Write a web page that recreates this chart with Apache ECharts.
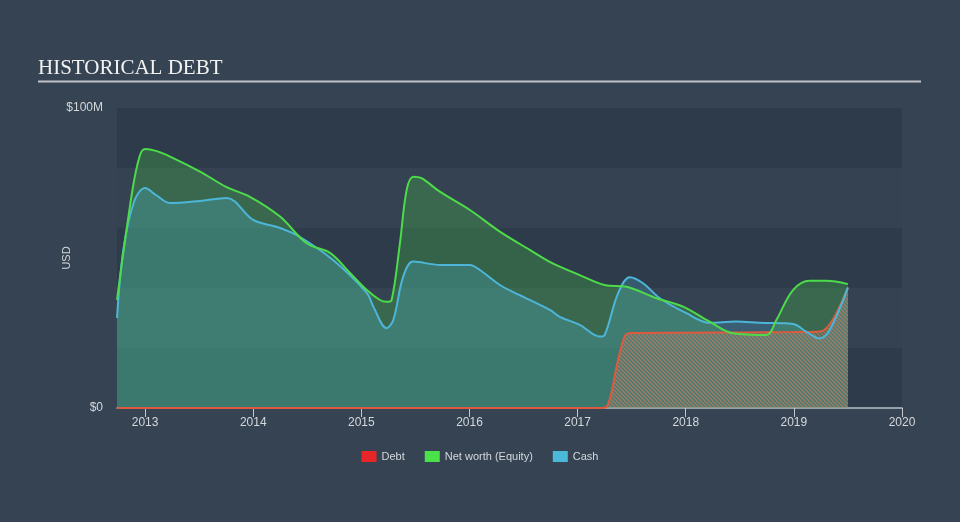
<!DOCTYPE html>
<html>
<head>
<meta charset="utf-8">
<script src="https://cdn.jsdelivr.net/npm/echarts@6/dist/echarts.min.js"></script>
<style>
html,body{margin:0;padding:0;background:#354352;}
#c{width:960px;height:522px;}
</style>
</head>
<body>
<div id="c"></div>
<script>
// ---- data (decimal years, values in $M) ----
const xTickYears = [2013, 2014, 2015, 2016, 2017, 2018, 2019, 2020];
const yTickLabels = {0: '$0', 100: '$100M'};

const netWorthYears = [2012.74, 2012.88, 2012.95, 2013.0, 2013.1, 2013.231, 2013.508, 2013.755, 2013.97, 2014.248, 2014.494, 2014.71, 2014.895, 2015.05, 2015.172, 2015.234, 2015.28, 2015.357, 2015.419, 2015.48, 2015.557, 2015.726, 2016.004, 2016.281, 2016.558, 2016.743, 2016.835, 2017.02, 2017.25, 2017.452, 2017.729, 2017.975, 2018.22, 2018.437, 2018.745, 2018.838, 2018.992, 2019.147, 2019.30, 2019.50];
const netWorthValues = [36, 72, 84, 86.3, 85.7, 83.8, 78.8, 73.6, 70.4, 63.8, 54.9, 51.7, 45, 39.3, 36, 35.4, 36, 55, 72.7, 77.1, 76.6, 72.1, 66, 58.8, 52.7, 48.7, 47.1, 44.3, 41, 40.4, 36.6, 33.8, 28.8, 24.9, 24.3, 29.3, 39.3, 42.4, 42.4, 41.3];

const cashYears = [2012.74, 2012.8, 2012.9, 2013.0, 2013.1, 2013.231, 2013.508, 2013.755, 2014.0, 2014.248, 2014.433, 2014.738, 2015.052, 2015.11, 2015.234, 2015.295, 2015.387, 2015.48, 2015.726, 2016.004, 2016.096, 2016.281, 2016.46, 2016.743, 2016.835, 2017.02, 2017.205, 2017.25, 2017.374, 2017.482, 2017.605, 2017.76, 2018.006, 2018.22, 2018.468, 2018.683, 2018.992, 2019.116, 2019.238, 2019.331, 2019.50];
const cashValues = [30, 53, 69, 73.3, 71, 68.3, 69, 70, 62.7, 60, 57, 49.3, 38.3, 33.8, 26.6, 29.3, 43.8, 48.8, 47.7, 47.7, 46, 41, 37.7, 32.7, 30.4, 27.7, 23.8, 24.3, 38.2, 43.6, 41.6, 36.6, 31.6, 28.4, 28.8, 28.4, 28, 25.4, 23.2, 26, 40.2];

const debtYears = [2012.74, 2017.2, 2017.267, 2017.374, 2017.44, 2017.5, 2018.0, 2018.5, 2019.0, 2019.22, 2019.30, 2019.393, 2019.50];
const debtValues = [0, 0, 0.4, 16, 24.2, 25, 25.1, 25.2, 25.3, 25.4, 26.6, 31.6, 40];

function pairs(xs, ys){ return xs.map((x,i)=>[x, ys[i]]); }

// hatch pattern for the debt area ("\" stripes)
const P = 4;
const pc = document.createElement('canvas');
pc.width = P; pc.height = P;
const g = pc.getContext('2d');
g.fillStyle = 'rgba(120,130,125,0.28)';
g.fillRect(0,0,P,P);
g.strokeStyle = 'rgba(215,125,90,0.6)';
g.lineWidth = 1.3;
g.beginPath();
g.moveTo(0,0); g.lineTo(P,P);
g.moveTo(-P,0); g.lineTo(P,2*P);
g.moveTo(0,-P); g.lineTo(2*P,P);
g.stroke();

const font = "'Liberation Sans', Arial, sans-serif";
const chart = echarts.init(document.getElementById('c'));

const GREEN = '#4ddb4a', BLUE = '#4db6d8', DEBT_LINE = '#de5a3e';

function areaSeries(name, data, fill){
  return {name, type:'line', data, smooth:0.35, showSymbol:false, z:1,
    lineStyle:{width:0}, areaStyle:{color:fill, opacity:1}, silent:true};
}
function lineSeries(name, data, color){
  return {name, type:'line', data, smooth:0.35, showSymbol:false, z:3,
    lineStyle:{width:2, color}, itemStyle:{color}, silent:true};
}

chart.setOption({
  backgroundColor:'#354352',
  animation:false,
  title:{text:'HISTORICAL DEBT', left:38, top:58, padding:0,
    textStyle:{fontFamily:"'Liberation Serif', 'Times New Roman', serif", fontSize:21, fontWeight:'normal', color:'#f2f2f2'}},
  graphic:[{type:'line', shape:{x1:38, y1:81.5, x2:921, y2:81.5}, style:{stroke:'#c0c4ca', lineWidth:2}}],
  legend:{
    top:446, left:'center', itemWidth:15, itemHeight:11, itemGap:20, icon:'rect',
    textStyle:{color:'#d4d8dc', fontSize:11, fontFamily:font},
    data:[
      {name:'Debt', itemStyle:{color:'#e8262a'}},
      {name:'Net worth (Equity)', itemStyle:{color:'#4be14b'}},
      {name:'Cash', itemStyle:{color:'#4cb8d8'}}
    ]
  },
  grid:{left:117, right:58, top:108, bottom:114},
  xAxis:{type:'value', min:2012.74, max:2020,
    axisLine:{lineStyle:{color:'#b8bec6', width:1.5}},
    axisTick:{show:true, length:9, lineStyle:{color:'#c4c9cf'}, customValues:xTickYears},
    axisLabel:{color:'#d4d8dc', fontSize:12, fontFamily:font, margin:9, customValues:xTickYears, formatter:v=>String(Math.round(v))},
    splitLine:{show:false}
  },
  yAxis:{type:'value', min:0, max:100, interval:20,
    name:'USD', nameLocation:'middle', nameGap:45, nameRotate:90, nameMoveOverlap:false,
    nameTextStyle:{color:'#d4d8dc', fontSize:11, fontFamily:font},
    axisLine:{show:false}, axisTick:{show:false},
    axisLabel:{color:'#d4d8dc', fontSize:12, fontFamily:font, margin:14, formatter:v=>yTickLabels[v] || ''},
    splitLine:{show:false},
    splitArea:{show:true, areaStyle:{color:['#2e3b4a','#344251']}}
  },
  series:[
    areaSeries('Net worth (Equity)', pairs(netWorthYears, netWorthValues), 'rgba(77,219,74,0.25)'),
    areaSeries('Cash', pairs(cashYears, cashValues), 'rgba(77,182,216,0.26)'),
    areaSeries('Debt', pairs(debtYears, debtValues), {image:pc, repeat:'repeat'}),
    lineSeries('Debt', pairs(debtYears, debtValues), DEBT_LINE),
    lineSeries('Cash', pairs(cashYears, cashValues), BLUE),
    lineSeries('Net worth (Equity)', pairs(netWorthYears, netWorthValues), GREEN)
  ]
});
</script>
</body>
</html>
